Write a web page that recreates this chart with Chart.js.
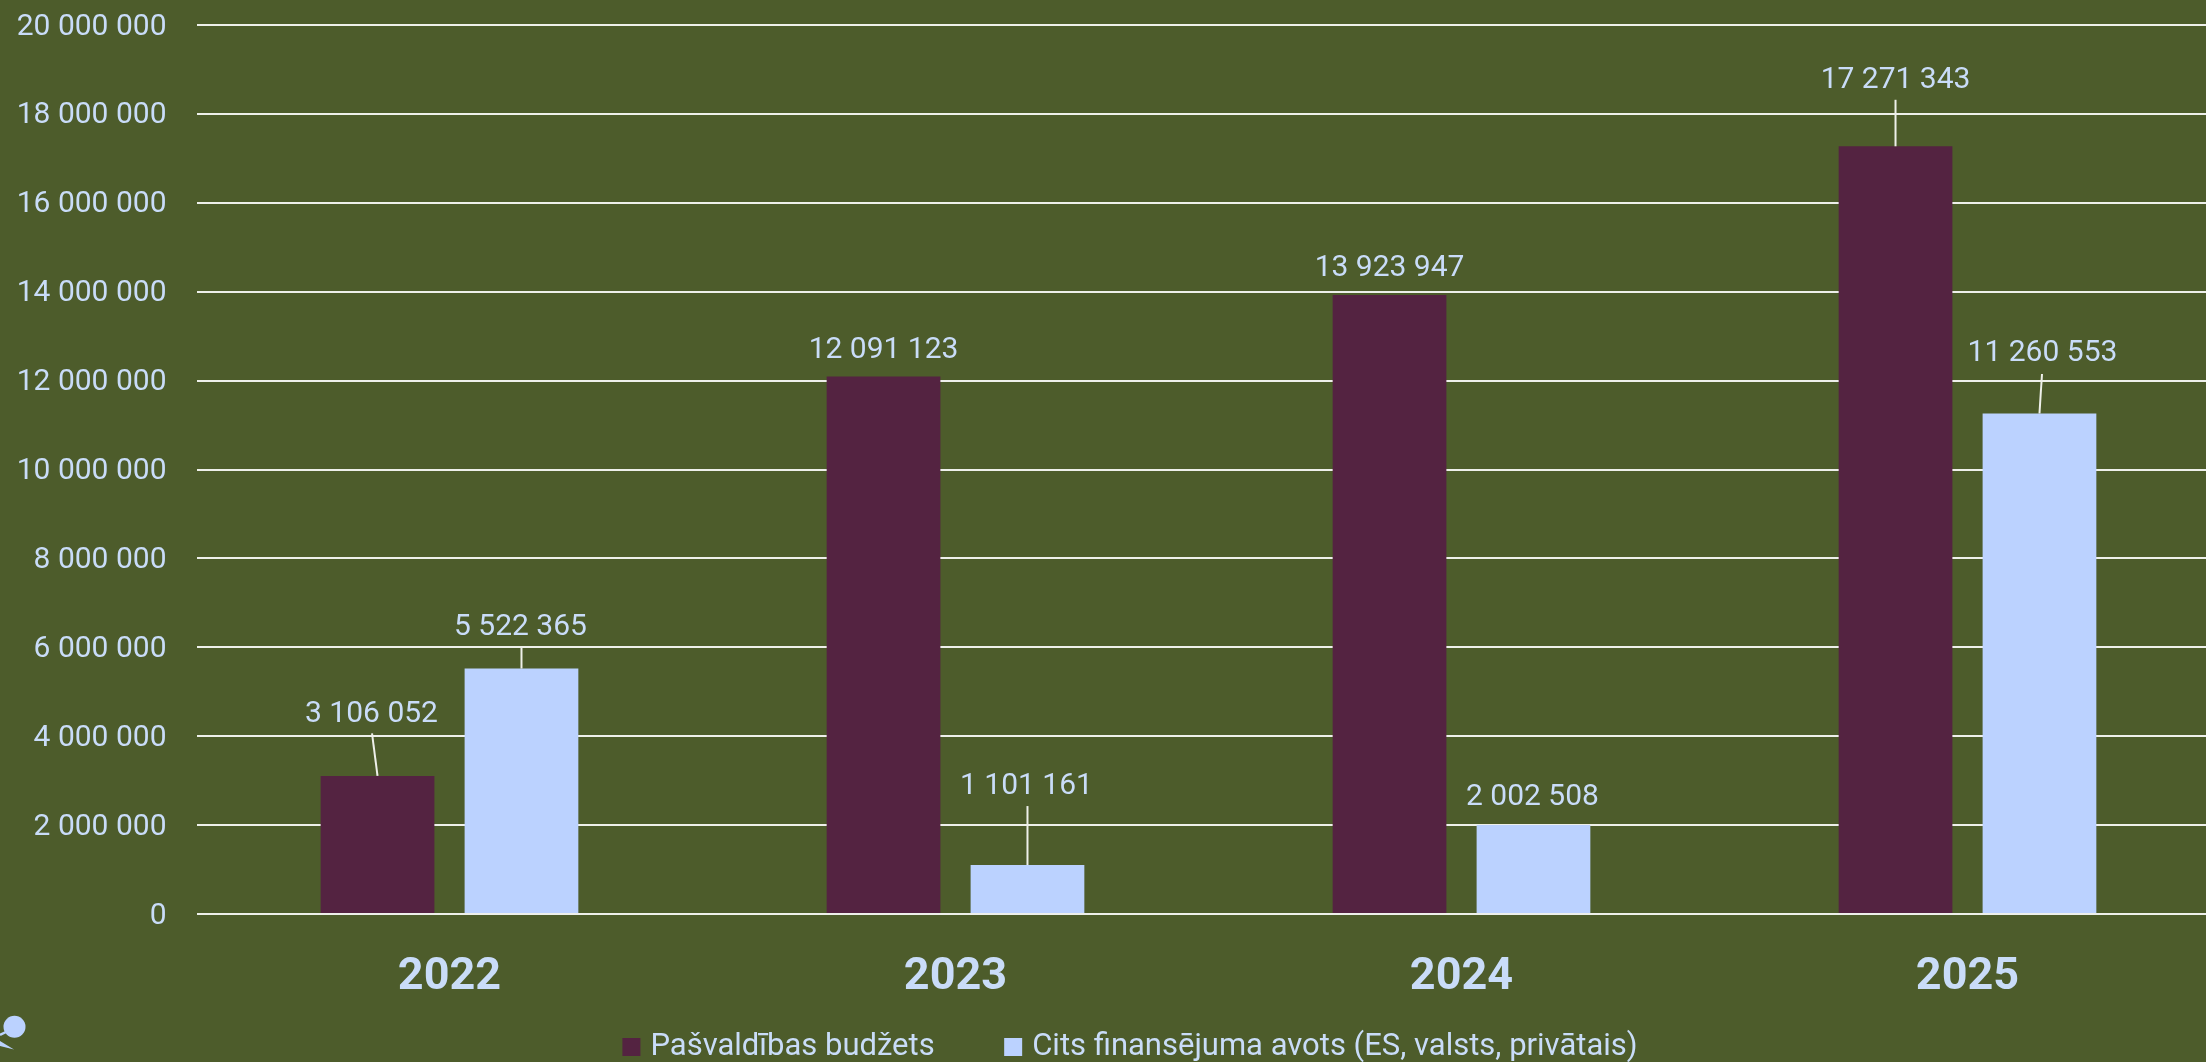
<!DOCTYPE html>
<html>
<head>
<meta charset="utf-8">
<title>Finansējums</title>
<script src="https://cdn.jsdelivr.net/npm/chart.js@4/dist/chart.umd.min.js"></script>
<style>
html, body { margin: 0; padding: 0; width: 2206px; height: 1062px; overflow: hidden; background: #4d5c2b; }
canvas { display: block; }
</style>
</head>
<body>
<canvas id="chart" width="2221" height="1117" style="width:2221px;height:1117px"></canvas>
<script>
var years = ['2022', '2023', '2024', '2025'];
var budgetValues = [3106052, 12091123, 13923947, 17271343];
var otherValues = [5522365, 1101161, 2002508, 11260553];
var seriesNames = ['Pašvaldības budžets', 'Cits finansējuma avots (ES, valsts, privātais)'];

var textColor = '#c9dcf8';
var gridColor = '#eef0ea';
var fontName = 'Roboto, "Liberation Sans", sans-serif';

// label centre and leader end, relative to the top centre of the bar; one row per year
var budgetLabels = [
    { dx: -6, dy: -61.5, lx: -5.5, ly: -42.5 },
    { dx: 0, dy: -26.5 },
    { dx: 0, dy: -26.5 },
    { dx: 0, dy: -65.5, lx: 0, ly: -46.5 }
];
var otherLabels = [
    { dx: -1, dy: -41.5, lx: 0, ly: -22 },
    { dx: -1, dy: -78.5, lx: 0, ly: -59 },
    { dx: -1, dy: -27.5 },
    { dx: 3, dy: -59.5, lx: 2.5, ly: -39.5 }
];

function spaced(n) {
    return String(n).replace(/\B(?=(\d{3})+$)/g, ' ');
}

var barLabels = {
    id: 'barLabels',
    afterDatasetsDraw: function (chart) {
        var ctx = chart.ctx;
        ctx.save();
        ctx.font = '30px ' + fontName;
        ctx.textAlign = 'center';
        ctx.textBaseline = 'middle';
        [budgetLabels, otherLabels].forEach(function (labels, i) {
            chart.getDatasetMeta(i).data.forEach(function (bar, j) {
                var l = labels[j];
                if (l.ly !== undefined) {
                    ctx.strokeStyle = gridColor;
                    ctx.lineWidth = 2;
                    ctx.beginPath();
                    ctx.moveTo(bar.x, bar.y);
                    ctx.lineTo(bar.x + l.lx, bar.y + l.ly);
                    ctx.stroke();
                }
                ctx.fillStyle = textColor;
                ctx.fillText(spaced(chart.data.datasets[i].data[j]), bar.x + l.dx, bar.y + l.dy);
            });
        });
        ctx.restore();
    }
};

// the legend sits right of the canvas centre and overlaps the axis box in the original
var legendNudge = {
    id: 'legendNudge',
    afterLayout: function (chart) {
        chart.legend.left += 17.5;
        chart.legend.right += 17.5;
        chart.legend.top = 956.5;
    }
};

// bit of page decoration in the bottom left corner
var cornerMark = {
    id: 'cornerMark',
    afterDraw: function (chart) {
        var ctx = chart.ctx;
        ctx.save();
        ctx.fillStyle = '#bbd2ff';
        ctx.strokeStyle = '#bbd2ff';
        ctx.beginPath();
        ctx.arc(14.5, 1026.7, 11, 0, Math.PI * 2);
        ctx.fill();
        ctx.lineWidth = 2.5;
        ctx.beginPath();
        ctx.moveTo(0, 1035);
        ctx.lineTo(8, 1031);
        ctx.stroke();
        ctx.beginPath();
        ctx.moveTo(0, 1041);
        ctx.lineTo(14, 1049.5);
        ctx.lineTo(0, 1046);
        ctx.closePath();
        ctx.fill();
        ctx.restore();
    }
};

new Chart(document.getElementById('chart'), {
    type: 'bar',
    data: {
        labels: years,
        datasets: [
            { label: seriesNames[0], data: budgetValues, backgroundColor: '#542341' },
            { label: seriesNames[1], data: otherValues, backgroundColor: '#bbd2ff' }
        ]
    },
    options: {
        responsive: false,
        devicePixelRatio: 1,
        animation: false,
        categoryPercentage: 0.569,
        barPercentage: 0.79,
        layout: { padding: { top: 25, left: 10, right: 0.5, bottom: 0 } },
        plugins: {
            tooltip: { enabled: false },
            title: { display: false },
            legend: {
                position: 'bottom',
                labels: {
                    color: textColor,
                    font: { family: fontName, size: 31 },
                    usePointStyle: true,
                    pointStyle: 'rect',
                    boxWidth: 7,
                    boxHeight: 18,
                    padding: 75
                }
            }
        },
        scales: {
            x: {
                grid: { display: false },
                border: { display: false },
                ticks: {
                    color: textColor,
                    font: { family: fontName, size: 45, weight: 'bold' },
                    padding: 29,
                    maxRotation: 0
                },
                afterFit: function (scale) { scale.height = 87; }
            },
            y: {
                min: 0,
                max: 20000000,
                grid: { color: gridColor, lineWidth: 2, drawTicks: false },
                border: { display: false },
                ticks: {
                    color: textColor,
                    font: { family: fontName, size: 30 },
                    stepSize: 2000000,
                    padding: 30,
                    labelOffset: 2,
                    callback: function (v) { return spaced(v); }
                },
                afterFit: function (scale) {
                    scale.width = 186.5;
                    scale.paddingTop = 0;
                    scale.paddingBottom = 0;
                }
            }
        }
    },
    plugins: [barLabels, legendNudge, cornerMark]
});
</script>
</body>
</html>
